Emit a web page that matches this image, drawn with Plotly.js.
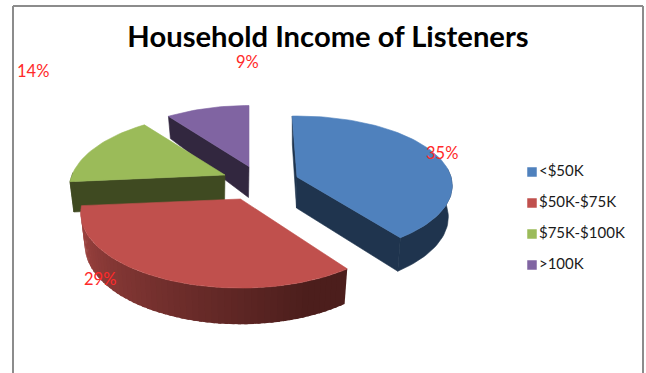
<!DOCTYPE html>
<html>
<head>
<meta charset="utf-8">
<script src="https://cdn.plot.ly/plotly-3.0.1.min.js"></script>
<style>html,body{margin:0;padding:0;background:#fff}#chart{width:646px;height:373px}</style>
</head>
<body>
<div id="chart"></div>
<script>
// Share of listeners per household income band
const categories = ['<$50K', '$50K-$75K', '$75K-$100K', '>100K'];
const percents = [35, 29, 14, 9];
const topColors = ['#4f81bd', '#c0504d', '#9bbb59', '#8064a2'];
const wallColors = ['#1f344e', '#a54643', '#3f4a21', '#32273f'];
const wallShade = '#4c1e1c';

// Exploded-slice apex, radii, tilt, label and key placement on the 646x373 canvas
const apexX = [297, 240.5, 225, 249];
const apexY = [177, 199, 175, 166.5];
const radiusX = [154, 157, 153, 153];
const radiusY = [68.6, 72.4, 72.4, 72.4];
const perspective = [0.125, 0.187, 0.187, 0.187];
const turnDeg = [-2, 0, 0, 0];
const depths = [31, 31, 30, 31];
const depthFalloff = [0.75, 0.75, 0.75, 2.4];
const labelX = [442, 100, 33, 247];
const labelY = [153, 279, 71, 62];
const legendX = [532, 532, 532, 532];
const legendY = [172, 203, 234, 265];

const BASE_SHRINK = 0.975, START_DEG = 0;

// Project a pie angle (degrees clockwise from the back) onto the tilted disc
function project(i, deg, onBase) {
  const t = (deg + turnDeg[i]) * Math.PI / 180;
  const p = 1 / (1 + perspective[i] * Math.cos(t));
  const dx = radiusX[i] * Math.sin(t) * p;
  const dy = -radiusY[i] * Math.cos(t) * p;
  if (!onBase) return [apexX[i] + dx, apexY[i] + dy];
  return [apexX[i] + dx * BASE_SHRINK, apexY[i] + dy + depths[i] * Math.pow(p, depthFalloff[i])];
}
function arc(i, from, to, onBase) {
  const n = Math.max(2, Math.ceil(Math.abs(to - from) / 2));
  const out = [];
  for (let k = 0; k <= n; k++) out.push(project(i, from + (to - from) * k / n, onBase));
  return out;
}
function polygon(points, color, edge) {
  const closed = points.concat([points[0]]);
  return {
    type: 'scatter', mode: 'lines', fill: 'toself', fillcolor: color,
    x: closed.map(p => p[0]), y: closed.map(p => p[1]),
    line: {color: color, width: edge === undefined ? 0.6 : edge}, hoverinfo: 'skip', showlegend: false
  };
}
function mix(a, b, f) {
  const ch = (h, s) => parseInt(h.substr(s, 2), 16);
  const c = s => Math.round(ch(a, s) + (ch(b, s) - ch(a, s)) * f);
  return `rgb(${c(1)},${c(3)},${c(5)})`;
}

// Slice angles follow each band's share of the stated total
const total = percents.reduce((a, b) => a + b, 0);
const starts = [], ends = [];
percents.reduce((acc, v, i) => {
  starts[i] = acc;
  ends[i] = acc + v / total * 360;
  return ends[i];
}, START_DEG);

const apexPt = i => [apexX[i], apexY[i]];
const apexBase = i => [apexX[i] - 0.5, apexY[i] + depths[i]];
function cutFace(i, deg) {
  return polygon([apexPt(i), project(i, deg, false), project(i, deg, true), apexBase(i)], wallColors[i]);
}
function flatWall(i, from, to) {
  return polygon(arc(i, from, to, false).concat(arc(i, from, to, true).reverse()), wallColors[i]);
}
function topFace(i) {
  return polygon([apexPt(i)].concat(arc(i, starts[i], ends[i], false)), topColors[i]);
}

const traces = [];

// Purple slice sits at the back
traces.push(cutFace(3, starts[3]), topFace(3));

// Blue slice: both cut faces and the rim on its front-right
traces.push(cutFace(0, starts[0]), cutFace(0, ends[0]), flatWall(0, 85, ends[0]), topFace(0));

// Green slice
traces.push(cutFace(2, starts[2]), flatWall(2, starts[2], 272), topFace(2));

// Red slice with a rim that darkens from left to right
const rimSteps = 60;
for (let k = 0; k < rimSteps; k++) {
  const a = ends[1] - (ends[1] - starts[1]) * k / rimSteps;
  const b = Math.max(ends[1] - (ends[1] - starts[1]) * (k + 1.5) / rimSteps, starts[1]);
  const f = Math.min(1, k / (rimSteps - 8));
  traces.push(polygon(arc(1, a, b, false).concat(arc(1, a, b, true).reverse()),
    mix(wallColors[1], wallShade, f), 0));
}
traces.push(topFace(1));

// Key: square swatches with their category names
traces.push({
  type: 'scatter', mode: 'markers+text',
  x: legendX, y: legendY, text: categories, textposition: 'middle right',
  textfont: {family: 'Lato, "Open Sans", sans-serif', size: 15, color: '#1a1a1a'},
  marker: {symbol: 'square', size: 9.5, color: topColors},
  hoverinfo: 'skip', showlegend: false, cliponaxis: false
});

const hiddenAxis = range => ({
  range: range, visible: false, fixedrange: true, showgrid: false, zeroline: false
});

const frameColor = '#8c8c8c';
const frame = [[13, 373, 13, 6], [13, 6, 643, 6], [643, 6, 643, 373]].map(s => ({
  type: 'line', xref: 'x', yref: 'y', x0: s[0], y0: s[1], x1: s[2], y1: s[3],
  line: {color: frameColor, width: 2}
}));

const layout = {
  width: 646, height: 373,
  margin: {l: 0, r: 0, t: 0, b: 0},
  paper_bgcolor: '#ffffff', plot_bgcolor: '#ffffff',
  showlegend: false,
  xaxis: hiddenAxis([0, 646]),
  yaxis: hiddenAxis([373, 0]),
  shapes: frame,
  title: {
    text: '<b>Household Income of Listeners</b>',
    font: {family: 'Lato, "Open Sans", sans-serif', size: 29.2, color: '#000000'},
    x: 328 / 646, xanchor: 'center', y: 1 - 37 / 373, yanchor: 'middle'
  },
  annotations: percents.map((v, i) => ({
    xref: 'x', yref: 'y', x: labelX[i], y: labelY[i], text: v + '%', showarrow: false,
    font: {family: 'Lato, "Open Sans", sans-serif', size: 16.5, color: '#ff2a2a'}
  }))
};

Plotly.newPlot('chart', traces, layout, {displayModeBar: false, staticPlot: true});
</script>
</body>
</html>
